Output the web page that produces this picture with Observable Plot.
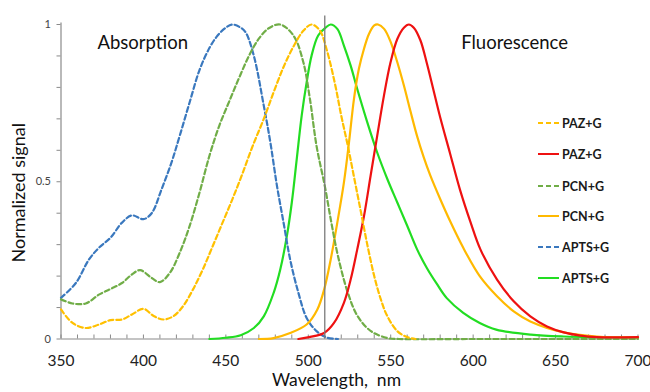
<!DOCTYPE html>
<html><head><meta charset="utf-8">
<script src="https://cdn.jsdelivr.net/npm/d3@7"></script>
<script src="https://cdn.jsdelivr.net/npm/@observablehq/plot@0.6"></script>
<style>
html,body{margin:0;padding:0;background:#fff;}
#wrap{position:relative;width:650px;height:392px;font-family:Lato,sans-serif;}
#legend{position:absolute;left:538px;top:0;}
.row{position:absolute;left:0;height:16px;display:flex;align-items:center;white-space:nowrap;font-weight:bold;font-size:12.5px;color:#1a1a1a;}
.row svg{margin-right:3px;}
</style></head><body><div id="wrap"></div>
<script>
// ---- data (wavelength nm, normalized signal) ----
const pazAbsX = [350,357,365,373,380,387,393,400,406,412,418,424,430,436,442,448,454,460,466,473,479,485,491,497,502,507,511,516,520,524,528,532,536,540,544,548,554,560,565];
const pazAbsY = [0.094,0.051,0.035,0.046,0.06,0.062,0.078,0.096,0.074,0.062,0.072,0.104,0.157,0.221,0.295,0.37,0.445,0.525,0.61,0.70,0.785,0.865,0.93,0.98,1.0,0.981,0.923,0.816,0.71,0.614,0.508,0.402,0.295,0.2,0.126,0.072,0.025,0.006,0];
const pazFluX = [494,503.5,509.6,515.6,521.6,525.7,529.7,533.8,537.8,541.8,545.9,549.9,554,558,561,564,568,572,576,580,586,592,598.5,604.4,614.5,624.6,634.7,644.8,655,665,675,700];
const pazFluY = [0,0.009,0.019,0.051,0.115,0.189,0.285,0.391,0.519,0.646,0.774,0.88,0.954,0.99,1.0,0.99,0.95,0.875,0.79,0.705,0.59,0.475,0.37,0.285,0.189,0.12,0.072,0.04,0.021,0.011,0.006,0.006];
const pcnAbsX = [350,357,365,373,380,387,393,398,405,410,416,422,428,434,440,446,452,458,464,470,476,483,491,497,501,505,510,514,518,524,530,538,548,555,600,650,700];
const pcnAbsY = [0.126,0.113,0.113,0.141,0.159,0.178,0.205,0.219,0.194,0.181,0.21,0.274,0.359,0.465,0.582,0.678,0.755,0.83,0.9,0.955,0.988,1.0,0.965,0.88,0.763,0.614,0.487,0.37,0.264,0.147,0.072,0.025,0.003,0,0,0,0];
const pcnFluX = [470,479,489,499,505.5,509.6,513.6,517.6,521.6,524.7,527.7,530.7,533.8,536.8,540,542.3,546,550,554,558,562,566,570,574,580,586,594,604,614.5,624.6,634.7,655,675,700];
const pcnFluY = [0,0.003,0.019,0.046,0.094,0.157,0.253,0.37,0.497,0.625,0.763,0.859,0.923,0.97,0.997,1.0,0.986,0.944,0.88,0.806,0.724,0.645,0.578,0.52,0.445,0.375,0.29,0.2,0.136,0.088,0.056,0.021,0.008,0.005];
const aptsAbsX = [350,359,367,373,380,387,393,400,405,411,417,422,428,434,440,445,450,454,459,462,467,473,477,481,485,489,494,499,505,511,518];
const aptsAbsY = [0.131,0.178,0.253,0.29,0.322,0.37,0.393,0.381,0.40,0.476,0.561,0.646,0.752,0.855,0.925,0.965,0.99,1.0,0.99,0.975,0.90,0.742,0.625,0.487,0.37,0.253,0.147,0.067,0.025,0.005,0];
const aptsFluX = [440,450,459,467,473,479,483,487,490,493,496,499,502,506,510.5,513.6,517.6,521.6,525.7,529.7,535.8,541.8,548,554,560,566,572,578,584,594,604,614,635,655,700];
const aptsFluY = [0,0.004,0.012,0.035,0.072,0.147,0.221,0.327,0.434,0.572,0.71,0.816,0.901,0.965,0.99,1.0,0.986,0.933,0.869,0.795,0.689,0.593,0.508,0.434,0.36,0.285,0.225,0.175,0.13,0.083,0.051,0.03,0.014,0.008,0.004];

const legendLabels = ["PAZ+G","PAZ+G","PCN+G","PCN+G","APTS+G","APTS+G"];
const seriesColors = ["#ffc000","#ee1111","#70ad47","#ffb900","#3a78be","#22dd22"];
const seriesDashed = [true,false,true,false,true,false];
const seriesX = [pazAbsX,pazFluX,pcnAbsX,pcnFluX,aptsAbsX,aptsFluX];
const seriesY = [pazAbsY,pazFluY,pcnAbsY,pcnFluY,aptsAbsY,aptsFluY];

const xTicks = [350,400,450,500,550,600,650,700];
const xMinor = d3.range(350,701,10);
const yTicks = [0,0.5,1];
const yMinor = d3.range(0,1.001,0.1);
const separator = [510];

const rows = seriesX.flatMap((xs,s)=>xs.map((x,i)=>({x, y: seriesY[s][i], s})));

const axisColor = "#8a8a8a";
const lineMarks = [5,4,3,2,1,0].map(s => Plot.line(rows.filter(d=>d.s===s), {
  x:"x", y:"y", stroke: seriesColors[s], strokeWidth: 2.2,
  strokeDasharray: seriesDashed[s] ? "5,3" : null, curve: "catmull-rom"
}));

const chart = Plot.plot({
  width: 650, height: 392,
  marginLeft: 60.5, marginRight: 12.5, marginTop: 24, marginBottom: 53.5,
  style: {fontFamily: "Lato, sans-serif", background: "#fff"},
  x: {domain: [350,700]},
  y: {domain: [0,1]},
  marks: [
    Plot.axisX({ticks: xMinor, tickSize: -4, tickFormat: () => "", stroke: axisColor, label: null}),
    Plot.axisX({ticks: xTicks, tickSize: 0, tickPadding: 16, fontSize: 15.5, fill: "#222", label: null}),
    Plot.axisY({ticks: yMinor, tickSize: 4, tickFormat: () => "", stroke: axisColor, label: null}),
    Plot.axisY({ticks: yTicks, tickSize: 0, tickPadding: 10, fontSize: 11, fill: "#444", tickFormat: d => String(d), label: null}),
    Plot.ruleY([0], {stroke: axisColor, strokeWidth: 1.2}),
    Plot.ruleX([350], {y1: 0, y2: 1.005, stroke: axisColor, strokeWidth: 1.2}),
    ...lineMarks,
    Plot.ruleX(separator, {y1: 0, y2: 1.027, stroke: "#7a7a7a", strokeWidth: 1.3}),
    Plot.text(["Absorption"], {frameAnchor: "top-left", textAnchor: "start", lineAnchor: "middle", dx: 36.5, dy: 19, fontSize: 18.5, fill: "#111"}),
    Plot.text(["Fluorescence"], {frameAnchor: "top-right", textAnchor: "end", lineAnchor: "middle", dx: -70, dy: 19, fontSize: 18.5, fill: "#111"}),
    Plot.text(["Wavelength, \u00a0nm"], {frameAnchor: "bottom", textAnchor: "middle", lineAnchor: "middle", dx: -13, dy: 41.5, fontSize: 17.5, fill: "#111"}),
    Plot.text(["Normalized signal"], {frameAnchor: "left", textAnchor: "middle", lineAnchor: "middle", rotate: -90, dx: -42, dy: 11, fontSize: 18, fill: "#111"})
  ]
});

const wrap = document.getElementById("wrap");
wrap.appendChild(chart);
const legend = document.createElement("div");
legend.id = "legend";
const rowTops = [115,146,178,208,239,270];
legendLabels.forEach((lab,i)=>{
  const r = document.createElement("div");
  r.className = "row";
  r.style.top = rowTops[i] + "px";
  r.innerHTML = `<svg width="21" height="4"><line x1="0" y1="2" x2="21" y2="2" stroke="${seriesColors[i]}" stroke-width="2" ${seriesDashed[i] ? 'stroke-dasharray="5,3"' : ''}/></svg><span>${lab}</span>`;
  legend.appendChild(r);
});
wrap.appendChild(legend);
</script>
</body></html>
